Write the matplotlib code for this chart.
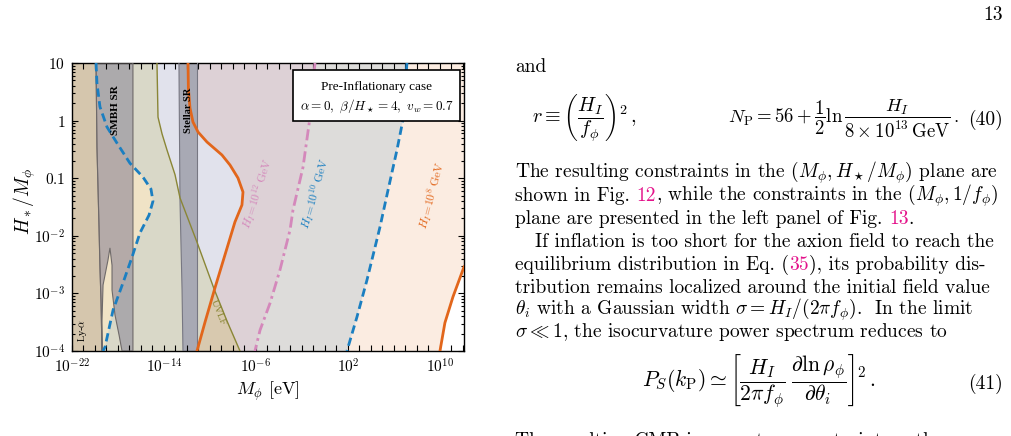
import numpy as np
import matplotlib
matplotlib.use('Agg')
import matplotlib.pyplot as plt
from matplotlib.patches import Polygon, Rectangle
from matplotlib.ticker import LogLocator, NullLocator, NullFormatter

plt.rcParams['mathtext.fontset'] = 'cm'
plt.rcParams['font.family'] = ['cmr10', 'DejaVu Serif']
plt.rcParams['axes.unicode_minus'] = False

# ---- curves, log10(M_phi/eV) vs log10(H*/M_phi) ----
lya_x = [-19.91, -19.83, -19.65, -19.57, -19.48, -19.39]
lya_y = [1.0, -0.46, -1.85, -2.54, -3.12, -4.0]

smbh_x = [-19.91, -16.70, -16.70, -17.65, -17.91, -18.26, -18.52, -18.52, -18.70,
          -18.87, -19.30, -19.39, -19.39, -19.48, -19.57, -19.65, -19.83]
smbh_y = [1.0, 1.0, -4.0, -4.0, -3.72, -3.375, -2.94, -2.51, -2.21,
          -2.42, -2.854, -3.46, -4.0, -3.115, -2.54, -1.85, -0.46]

stellar_lx = [-12.70, -12.61, -12.43, -12.35]
stellar_ly = [1.0, -1.38, -2.94, -4.0]
stellar_rx = [-11.13, -11.13]
stellar_ry = [1.0, -4.0]

uvlf_x = [-14.61, -14.52, -14.17, -13.74, -13.04, -12.61, -11.13, -9.65, -8.52, -7.39]
uvlf_y = [1.0, 0.06, -0.23, -0.51, -0.94, -1.34, -2.11, -2.92, -3.48, -4.0]

h8_left_x = [-11.91, -11.88, -11.74, -11.48, -11.04, -10.26, -8.96, -8.26, -7.565,
             -7.13, -7.22, -7.83, -8.70, -9.57, -10.43, -11.13]
h8_left_y = [1.0, 0.566, 0.219, -0.024, -0.198, -0.372, -0.597, -0.771, -0.997,
             -1.240, -1.465, -1.760, -2.333, -2.906, -3.497, -4.0]
h8_right_x = [12.09, 11.13, 10.43, 10.0]
h8_right_y = [-2.54, -3.06, -3.51, -4.0]

h10_left_x = [-19.91, -19.83, -19.57, -18.96, -18.09, -16.96, -15.83, -15.13, -14.96,
              -15.30, -16.09, -16.78, -17.57, -18.43, -19.13, -19.30]
h10_left_y = [1.0, 0.65, 0.24, -0.11, -0.39, -0.74, -0.98, -1.19, -1.40,
              -1.64, -1.95, -2.37, -2.82, -3.29, -3.93, -4.0]
h10_right_x = [7.13, 6.78, 6.26, 5.48, 4.78, 3.65, 2.78, 1.91]
h10_right_y = [1.0, 0.01, -0.51, -1.21, -1.85, -2.77, -3.41, -4.0]

h12_x = [-0.87, -1.30, -1.91, -2.78, -3.04, -3.91, -4.78, -5.65, -6.09]
h12_y = [1.0, 0.06, -0.81, -1.55, -1.90, -2.59, -3.17, -3.64, -4.0]

xtick_exp = list(range(-22, 13))
xlabel_exp = [-22, -14, -6, 2, 10]
ytick_vals = [1e-4, 1e-3, 1e-2, 0.1, 1, 10]
ytick_labels = ['$10^{-4}$', '$10^{-3}$', '$10^{-2}$', '$0.1$', '$1$', '$10$']

W, H = 1011, 436
XL, XR, YB, YT = -23.0, 13.0, -5.0, 2.0

fig = plt.figure(figsize=(W / 100, H / 100), dpi=100)
ax = fig.add_axes([72 / W, 1 - 351 / H, 392 / W, 288 / H])
ax.set_xscale('log')
ax.set_yscale('log')


def region(xl, yl, xr, yr):
    xs = [xl[0]] + list(xl) + [xl[-1], xr[-1]] + list(xr[::-1]) + [xr[0]]
    ys = [YT] + list(yl) + [YB, YB] + list(yr[::-1]) + [YT]
    return 10.0 ** np.array(xs), 10.0 ** np.array(ys)


LEFT = ([XL, XL], [1.0, -4.0])
RIGHT = ([XR, XR], [1.0, -4.0])


def fill(xy, color, z=1, clip=None, **kw):
    p = ax.fill(xy[0], xy[1], color=color, lw=0, zorder=z, **kw)[0]
    if clip is not None:
        cp = Polygon(np.column_stack(clip), transform=ax.transData)
        p.set_clip_path(cp)
    return p


h8L = (h8_left_x, h8_left_y)
h10L = (h10_left_x, h10_left_y)
h10R = (h10_right_x, h10_right_y)
h12 = (h12_x, h12_y)
uvlf = (uvlf_x, uvlf_y)

fill(region(*h8L, *RIGHT), '#fbece1')
fill(region(*h12, *h10R), '#dddcda')
fill(region(*h8L, *h12), '#ddd1d6')
# white beyond the right H_I=1e8 branch
wx = list(h8_right_x) + [h8_right_x[-1], XR, XR]
wy = list(h8_right_y) + [YB, YB, h8_right_y[0]]
fill((10.0 ** np.array(wx), 10.0 ** np.array(wy)), 'white')
fill(region(*LEFT, *h8L), '#e1e2ec')
fill(region(*LEFT, *uvlf), '#d8c9af')
fill(region(*LEFT, *uvlf), '#d9d8c8', clip=region(*LEFT, *h8L))
fill(region(*LEFT, *h10L), '#f0e3c6')
fill(region(*LEFT, lya_x, lya_y), '#d5c6ad')
fill((10.0 ** np.array(smbh_x), 10.0 ** np.array(smbh_y)), '#b4aaa8')
fill((10.0 ** np.array(smbh_x), 10.0 ** np.array(smbh_y)), '#acaaac',
     clip=region(*h10L, *RIGHT))
fill(region(stellar_lx, stellar_ly, stellar_rx, stellar_ry), '#a8a9b4')

# boundaries
ax.plot(10.0 ** np.array(lya_x), 10.0 ** np.array(lya_y), color='#857a78', lw=0.8, zorder=3)
ax.fill(10.0 ** np.array(smbh_x), 10.0 ** np.array(smbh_y), facecolor='none',
        edgecolor='#6f6a6a', lw=0.8, zorder=3)
ax.plot(10.0 ** np.array(stellar_lx), 10.0 ** np.array(stellar_ly), color='#777782', lw=0.8, zorder=3)
ax.plot(10.0 ** np.array(stellar_rx), 10.0 ** np.array(stellar_ry), color='#777782', lw=0.8, zorder=3)
ax.plot(10.0 ** np.array(uvlf_x), 10.0 ** np.array(uvlf_y), color='#8a8636', lw=1.0, zorder=3)

orange, blue, pink = '#e2661b', '#1b7fc1', '#d488bb'
for xs, ys in [(h8_left_x, h8_left_y), (h8_right_x, h8_right_y)]:
    ax.plot(10.0 ** np.array(xs), 10.0 ** np.array(ys), color=orange, lw=2.0, zorder=5)
for xs, ys in [(h10_left_x, h10_left_y), (h10_right_x, h10_right_y)]:
    ax.plot(10.0 ** np.array(xs), 10.0 ** np.array(ys), color=blue, lw=2.0,
            ls=(0, (3, 1.6)), zorder=5)
ax.plot(10.0 ** np.array(h12_x), 10.0 ** np.array(h12_y), color=pink, lw=2.0,
        ls=(0, (4, 1.5, 1, 1.5)), zorder=5)

# labels inside
serif = 'Liberation Serif'
ax.text(10 ** -21.13, 10 ** -3.64, r'Ly-$\alpha$', rotation=90, fontsize=7.5,
        family=serif, ha='center', va='center', zorder=6)
ax.text(10 ** -18.26, 10 ** 0.184, 'SMBH SR', rotation=90, fontsize=8, family=serif,
        weight='bold', ha='center', va='center', zorder=6)
ax.text(10 ** -11.91, 10 ** 0.184, 'Stellar SR', rotation=90, fontsize=7.5, family=serif,
        weight='bold', ha='center', va='center', zorder=6)
ax.text(10 ** -9.30, 10 ** -3.34, 'UVLF', rotation=-68, fontsize=7.5, family=serif,
        color='#8a8636', ha='center', va='center', zorder=6)
ax.text(10 ** -5.91, 10 ** -1.27, r'$H_I\!=\!10^{12}\;\mathrm{GeV}$', rotation=72,
        fontsize=8.5, color=pink, ha='center', va='center', zorder=6)
ax.text(10 ** -0.83, 10 ** -1.26, r'$H_I\!=\!10^{10}\;\mathrm{GeV}$', rotation=74,
        fontsize=8.5, color=blue, ha='center', va='center', zorder=6)
ax.text(10 ** 9.30, 10 ** -1.29, r'$H_I\!=\!10^{8}\;\mathrm{GeV}$', rotation=75,
        fontsize=8.5, color=orange, ha='center', va='center', zorder=6)

ax.add_patch(Rectangle((0.564, 0.799), 0.426, 0.177, transform=ax.transAxes,
                       facecolor='white', edgecolor='black', lw=1.2, zorder=7))
ax.text(0.778, 0.918, 'Pre-Inflationary case', transform=ax.transAxes, fontsize=9.5,
        family=serif, ha='center', va='center', zorder=8)
ax.text(0.778, 0.850, r'$\alpha=0,\ \beta/H_\star=4,\ v_w=0.7$', transform=ax.transAxes,
        fontsize=9.5, ha='center', va='center', zorder=8)

ax.set_xlim(1e-22, 10 ** 12.09)
ax.set_ylim(1e-4, 10)
ax.set_xticks([10.0 ** k for k in xtick_exp])
ax.set_xticklabels(['$10^{%d}$' % k if k in xlabel_exp else '' for k in xtick_exp])
ax.xaxis.set_minor_locator(NullLocator())
ax.set_yticks(ytick_vals)
ax.set_yticklabels(ytick_labels)
ax.yaxis.set_minor_locator(LogLocator(base=10, subs=range(2, 10), numticks=20))
ax.yaxis.set_minor_formatter(NullFormatter())
ax.tick_params(which='both', direction='in', top=True, right=True, labelsize=11, width=0.8)
ax.tick_params(which='major', length=4.5, pad=5)
ax.tick_params(which='minor', length=2.5)
for s in ax.spines.values():
    s.set_linewidth(1.0)
ax.set_xlabel(r'$M_\phi$ [eV]', fontsize=13)
ax.set_ylabel(r'$H_*/M_\phi$', fontsize=14)
ax.xaxis.set_label_coords(0.5, -0.10)
ax.yaxis.set_label_coords(-0.087, 0.52)

# ---- text column on the right ----
renderer = fig.canvas.get_renderer()
magenta = '#e4138b'


def text_width(s, size):
    t = fig.text(0, 0, s, fontsize=size)
    w = t.get_window_extent(renderer).width
    t.remove()
    return w


def line(x, y, pieces, size=14):
    done = ''
    for s, c in pieces:
        start = x + text_width(done + s, size) - text_width(s, size)
        fig.text(start / W, 1 - y / H, s, color=c, fontsize=size, va='baseline', ha='left')
        done += s


k = 'black'
fig.text(1003 / W, 1 - 20 / H, '13', fontsize=14, ha='right', va='baseline')
line(515, 72, [('and', k)])
fig.text(532 / W, 1 - 123 / H, r'$r \equiv \left(\dfrac{H_I}{f_\phi}\right)^2\,,$',
         fontsize=14.5, va='baseline')
fig.text(728 / W, 1 - 123 / H,
         r'$N_{\mathrm{P}} = 56 + \dfrac{1}{2}\ln\dfrac{H_I}{8\times 10^{13}\,\mathrm{GeV}}\,.$',
         fontsize=13.5, va='baseline')
fig.text(1003 / W, 1 - 125 / H, '(40)', fontsize=14, ha='right', va='baseline')
line(515, 178, [(r'The resulting constraints in the $(M_\phi, H_\star/M_\phi)$ plane are', k)])
line(515, 201, [('shown in Fig. ', k), ('12', magenta),
                (r', while the constraints in the $(M_\phi, 1/f_\phi)$', k)])
line(515, 224, [('plane are presented in the left panel of Fig. ', k), ('13', magenta), ('.', k)])
line(535, 247, [('If inflation is too short for the axion field to reach the', k)])
line(515, 270, [('equilibrium distribution in Eq. (', k), ('35', magenta),
                ('), its probability dis-', k)])
line(515, 293, [('tribution remains localized around the initial field value', k)])
line(515, 315, [(r'$\theta_i$ with a Gaussian width $\sigma = H_I/(2\pi f_\phi)$.  In the limit', k)])
line(515, 337, [(r'$\sigma \ll 1$, the isocurvature power spectrum reduces to', k)])
fig.text(642 / W, 1 - 387 / H,
         r'$P_S(k_{\mathrm{P}}) \simeq \left[\dfrac{H_I}{2\pi f_\phi}\;'
         r'\dfrac{\partial \ln \rho_\phi}{\partial \theta_i}\right]^2\,.$',
         fontsize=15.5, va='baseline')
fig.text(1003 / W, 1 - 389 / H, '(41)', fontsize=14, ha='right', va='baseline')
line(515, 446, [('The resulting CMB isocurvature constraint on the', k)])

fig.savefig('out.png', dpi=100)
